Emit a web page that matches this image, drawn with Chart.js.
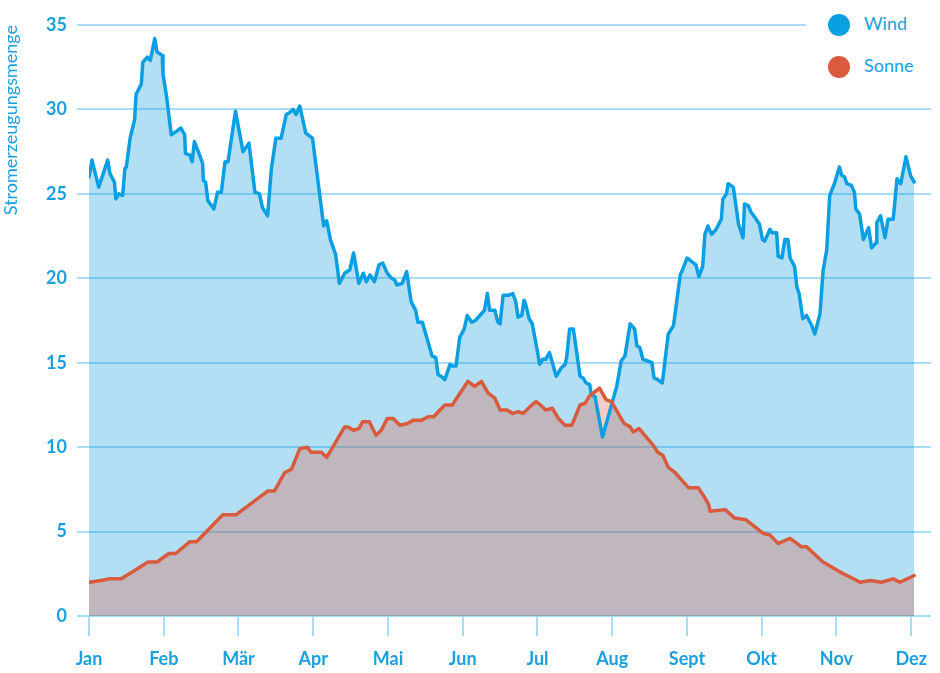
<!DOCTYPE html>
<html lang="de">
<head>
<meta charset="utf-8">
<title>Stromerzeugung Wind und Sonne</title>
<script src="https://cdn.jsdelivr.net/npm/chart.js@4.4.1/dist/chart.umd.min.js"></script>
<style>
  html, body { margin: 0; padding: 0; background: #fff; }
  #wrap { position: relative; width: 940px; height: 673px; }
  #legende {
    position: absolute; left: 806px; top: 0; width: 134px; height: 88px;
    background: #fff; font-family: Lato, "Noto Sans", sans-serif; font-size: 18px; color: #1a9fe0;
  }
  #legende div { position: absolute; left: 22px; height: 24px; line-height: 24px; }
  #legende i { display: inline-block; width: 22px; height: 22px; border-radius: 50%; vertical-align: middle; margin-right: 14px; }
</style>
</head>
<body>
<div id="wrap">
  <canvas id="chart" width="940" height="673"></canvas>
  <div id="legende">
    <div style="top:11px"><i style="background:#0a9ee2"></i>Wind</div>
    <div style="top:53px"><i style="background:#d95a3c"></i>Sonne</div>
  </div>
</div>
<script>
// Monatsachse (gleich breite Monate, 0 = Jan)
const monate = ['Jan', 'Feb', 'Mär', 'Apr', 'Mai', 'Jun', 'Jul', 'Aug', 'Sept', 'Okt', 'Nov', 'Dez'];

// Wind: Position (Monate ab Jan) und Wert
const windMonat = [
  0.00, 0.04, 0.13, 0.25, 0.28, 0.34, 0.36, 0.40, 0.45, 0.48, 0.50, 0.55, 0.61, 0.63, 0.70, 0.72,
  0.78, 0.82, 0.88, 0.91, 0.98, 0.99, 1.04, 1.10, 1.17, 1.23, 1.28, 1.29, 1.35, 1.38, 1.41, 1.48,
  1.52, 1.53, 1.56, 1.59, 1.67, 1.72, 1.77, 1.82, 1.86, 1.96, 2.06, 2.14, 2.22, 2.28, 2.32, 2.39,
  2.44, 2.50, 2.57, 2.64, 2.68, 2.73, 2.77, 2.82, 2.90, 2.99, 3.14, 3.18, 3.23, 3.30, 3.35, 3.42,
  3.49, 3.54, 3.61, 3.67, 3.71, 3.76, 3.82, 3.88, 3.93, 3.99, 4.05, 4.09, 4.12, 4.19, 4.25, 4.31,
  4.37, 4.40, 4.46, 4.59, 4.64, 4.67, 4.71, 4.76, 4.83, 4.86, 4.91, 4.96, 5.02, 5.06, 5.12, 5.17,
  5.25, 5.29, 5.33, 5.36, 5.43, 5.47, 5.50, 5.54, 5.62, 5.67, 5.71, 5.74, 5.79, 5.82, 5.84, 5.89,
  5.93, 5.99, 6.03, 6.07, 6.11, 6.16, 6.20, 6.25, 6.32, 6.37, 6.39, 6.43, 6.48, 6.57, 6.61, 6.65,
  6.70, 6.72, 6.77, 6.87, 7.06, 7.12, 7.17, 7.24, 7.30, 7.33, 7.37, 7.41, 7.48, 7.53, 7.56, 7.61,
  7.67, 7.75, 7.82, 7.91, 7.95, 8.00, 8.06, 8.12, 8.16, 8.21, 8.24, 8.28, 8.33, 8.39, 8.46, 8.48,
  8.53, 8.55, 8.62, 8.69, 8.75, 8.77, 8.82, 8.86, 8.91, 8.97, 9.01, 9.04, 9.11, 9.14, 9.20, 9.22,
  9.27, 9.31, 9.35, 9.38, 9.44, 9.47, 9.50, 9.55, 9.60, 9.67, 9.71, 9.78, 9.82, 9.87, 9.91, 9.98,
  10.04, 10.07, 10.11, 10.14, 10.20, 10.24, 10.26, 10.31, 10.36, 10.43, 10.47, 10.53, 10.54, 10.59, 10.65, 10.69,
  10.76, 10.81, 10.86, 10.93, 10.99, 11.04
];
const windWert = [
  26.0, 27.0, 25.4, 27.0, 26.2, 25.7, 24.7, 25.0, 24.9, 26.5, 26.6, 28.3, 29.4, 30.9, 31.5, 32.8,
  33.1, 32.9, 34.2, 33.4, 33.2, 32.1, 30.7, 28.5, 28.7, 28.9, 28.5, 27.4, 27.3, 26.9, 28.1, 27.3,
  26.8, 25.8, 25.7, 24.6, 24.1, 25.1, 25.1, 26.9, 26.9, 29.9, 27.5, 28.0, 25.1, 25.0, 24.2, 23.7,
  26.5, 28.3, 28.3, 29.7, 29.8, 30.0, 29.7, 30.2, 28.6, 28.3, 23.1, 23.4, 22.3, 21.4, 19.7, 20.3,
  20.5, 21.5, 19.7, 20.3, 19.8, 20.2, 19.8, 20.8, 20.9, 20.3, 20.0, 19.9, 19.6, 19.7, 20.4, 18.6,
  18.1, 17.4, 17.4, 15.4, 15.3, 14.3, 14.2, 14.0, 14.9, 14.8, 14.8, 16.5, 17.0, 17.8, 17.4, 17.5,
  17.9, 18.1, 19.1, 18.1, 18.1, 17.4, 17.3, 19.0, 19.0, 19.1, 18.6, 17.7, 17.8, 18.7, 18.5, 17.6,
  17.3, 15.9, 14.9, 15.2, 15.2, 15.6, 15.0, 14.2, 14.7, 14.9, 15.3, 17.0, 17.0, 14.2, 14.1, 13.8,
  13.7, 13.1, 13.0, 10.6, 13.6, 15.1, 15.4, 17.3, 17.0, 16.0, 15.9, 15.2, 15.1, 15.0, 14.1, 14.0,
  13.8, 16.7, 17.2, 20.2, 20.6, 21.2, 21.0, 20.8, 20.1, 20.7, 22.6, 23.1, 22.6, 22.9, 23.5, 24.7,
  25.0, 25.6, 25.4, 23.2, 22.4, 24.4, 24.3, 23.9, 23.6, 23.2, 22.3, 22.2, 22.9, 22.7, 22.7, 21.3,
  21.2, 22.3, 22.3, 21.2, 20.7, 19.5, 19.1, 17.6, 17.8, 17.2, 16.7, 17.9, 20.4, 21.7, 24.9, 25.7,
  26.6, 26.1, 26.0, 25.6, 25.5, 25.1, 24.1, 23.8, 22.3, 23.0, 21.8, 22.1, 23.3, 23.7, 22.4, 23.5,
  23.5, 25.9, 25.6, 27.2, 26.1, 25.7
];

// Sonne: Position (Monate ab Jan) und Wert
const sonneMonat = [
  0.00, 0.16, 0.27, 0.43, 0.61, 0.79, 0.91, 1.07, 1.16, 1.35, 1.44, 1.79, 1.97, 2.39, 2.48, 2.62,
  2.71, 2.82, 2.92, 2.97, 3.11, 3.18, 3.42, 3.46, 3.54, 3.61, 3.66, 3.75, 3.84, 3.91, 3.99, 4.07,
  4.16, 4.26, 4.34, 4.45, 4.54, 4.61, 4.76, 4.86, 5.07, 5.16, 5.25, 5.34, 5.43, 5.50, 5.59, 5.67,
  5.74, 5.81, 5.90, 5.98, 6.04, 6.11, 6.20, 6.28, 6.37, 6.46, 6.57, 6.64, 6.69, 6.83, 6.92, 6.99,
  7.16, 7.24, 7.28, 7.36, 7.55, 7.61, 7.68, 7.75, 7.84, 8.02, 8.15, 8.24, 8.29, 8.31, 8.51, 8.64,
  8.79, 9.02, 9.11, 9.22, 9.38, 9.47, 9.53, 9.60, 9.82, 10.05, 10.32, 10.45, 10.60, 10.76, 10.85, 11.04
];
const sonneWert = [
  2.0, 2.1, 2.2, 2.2, 2.7, 3.2, 3.2, 3.7, 3.7, 4.4, 4.4, 6.0, 6.0, 7.4, 7.4, 8.5,
  8.7, 9.9, 10.0, 9.7, 9.7, 9.4, 11.2, 11.2, 11.0, 11.1, 11.5, 11.5, 10.7, 11.0, 11.7, 11.7,
  11.3, 11.4, 11.6, 11.6, 11.8, 11.8, 12.5, 12.5, 13.9, 13.6, 13.9, 13.2, 12.9, 12.2, 12.2, 12.0,
  12.1, 12.0, 12.4, 12.7, 12.5, 12.2, 12.3, 11.7, 11.3, 11.3, 12.5, 12.6, 13.0, 13.5, 12.8, 12.7,
  11.4, 11.2, 10.9, 11.1, 10.1, 9.7, 9.5, 8.8, 8.5, 7.6, 7.6, 7.0, 6.6, 6.2, 6.3, 5.8,
  5.7, 4.9, 4.8, 4.3, 4.6, 4.3, 4.1, 4.1, 3.2, 2.6, 2.0, 2.1, 2.0, 2.2, 2.0, 2.4
];

const blau = '#1a9fe0';
const gitter = '#a9dcf5';
const schrift = 'Lato, "Noto Sans", sans-serif';

const punkte = (xs, ys) => xs.map((m, i) => ({ x: m, y: ys[i] }));

new Chart(document.getElementById('chart'), {
  type: 'line',
  data: {
    datasets: [
      {
        label: 'Sonne',
        data: punkte(sonneMonat, sonneWert),
        borderColor: '#d95a3c',
        backgroundColor: 'rgba(220, 90, 60, 0.3)',
        borderWidth: 3.5,
        fill: 'origin'
      },
      {
        label: 'Wind',
        data: punkte(windMonat, windWert),
        borderColor: '#0a9ee2',
        backgroundColor: 'rgba(0, 150, 220, 0.3)',
        borderWidth: 3.5,
        fill: 'origin'
      }
    ]
  },
  options: {
    responsive: false,
    animation: false,
    parsing: false,
    layout: { padding: { top: 25, right: 9, left: 0, bottom: 0 } },
    elements: {
      line: { tension: 0, borderJoinStyle: 'round', borderCapStyle: 'round' },
      point: { radius: 0 }
    },
    plugins: {
      legend: { display: false },
      tooltip: { enabled: false },
      filler: { drawTime: 'beforeDatasetsDraw' }
    },
    scales: {
      x: {
        type: 'linear',
        min: 0,
        max: 11.265,
        afterBuildTicks: s => { s.ticks = monate.map((_, i) => ({ value: i })); },
        afterFit: s => { s.height = 57; },
        border: { display: false },
        grid: { drawOnChartArea: false, drawTicks: true, tickLength: 20, color: gitter, lineWidth: 2 },
        ticks: {
          autoSkip: false,
          maxRotation: 0,
          padding: 12,
          color: blau,
          font: { family: schrift, size: 18, weight: 'bold' },
          callback: v => monate[v]
        }
      },
      y: {
        min: 0,
        max: 35,
        afterFit: s => { s.width = 89; },
        border: { display: false },
        grid: { color: gitter, lineWidth: 2, tickLength: 12 },
        ticks: {
          stepSize: 5,
          padding: 10,
          color: blau,
          font: { family: schrift, size: 18, weight: 'bold' }
        },
        title: {
          display: true,
          text: 'Stromerzeugungsmenge',
          align: 'end',
          color: blau,
          padding: { top: 0, bottom: 4 },
          font: { family: schrift, size: 18 }
        }
      }
    }
  }
});
</script>
</body>
</html>
